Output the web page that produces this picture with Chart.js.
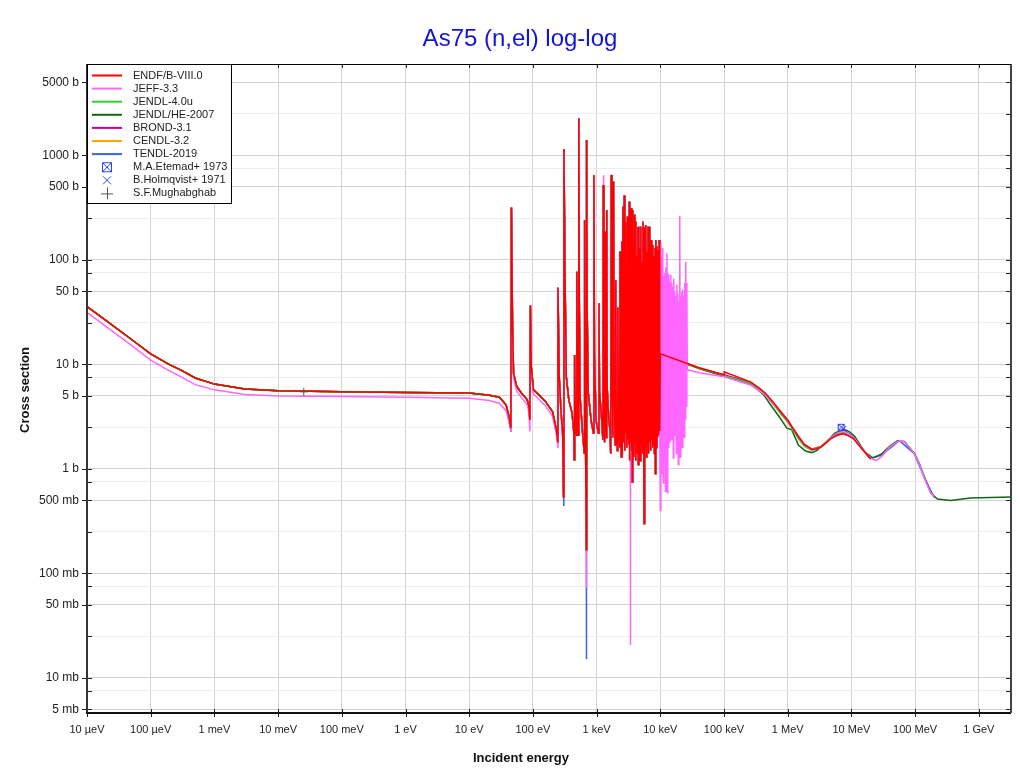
<!DOCTYPE html>
<html>
<head>
<meta charset="utf-8">
<title>As75 (n,el) log-log</title>
<script src="https://cdn.jsdelivr.net/npm/chart.js@4.4.0/dist/chart.umd.min.js"></script>
<style>
  html, body { margin: 0; padding: 0; background: #fff; }
  #wrap { width: 1020px; height: 774px; }
</style>
</head>
<body>
<div id="wrap"><canvas id="xsChart" width="1020" height="774"></canvas></div>
<script>
'use strict';

// energies in eV, cross sections in barns

// thermal region
let thermE = [1e-5, 2e-5, 5e-5, 1e-4, 2e-4, 3e-4, 5e-4, 1e-3, 3e-3, 1e-2, 0.1, 1];
let thermXS = [35.7, 26.2, 17.3, 12.6, 9.9, 8.8, 7.4, 6.47, 5.8, 5.58, 5.46, 5.38];
let jeffThermXS = [31.5, 23.0, 15.2, 11.0, 8.6, 7.6, 6.4, 5.7, 5.15, 4.99, 4.92, 4.85];

// resolved resonances, common to most evaluations (10 eV - 10 keV)
let resE = [
  10, 20.7, 29.7, 37.9, 42.2, 45.0, 46.0, 47.9, 49.7, 55.8,
  66.5, 81.4, 86.5, 89.6, 91.3, 94.2, 102, 125, 158, 203,
  234, 246, 247, 259, 276, 293, 303, 307, 320, 334,
  366, 412, 440, 445, 452, 467, 485, 489, 507, 517,
  525, 535, 550, 596, 642, 649, 666, 690, 697, 712,
  740, 820, 890, 908, 925, 980, 1070, 1090, 1110, 1200,
  1255, 1274, 1300, 1335, 1360, 1385, 1420, 1440, 1465, 1550,
  1630, 1665, 1700, 1740, 1800, 1840, 1880, 1950, 1990, 2030,
  2120, 2150, 2200, 2300, 2330, 2380, 2450, 2500, 2530, 2600,
  2650, 2720, 2770, 2820, 2870, 2930, 2980, 3050, 3100, 3170,
  3210, 3260, 3310, 3380, 3420, 3470, 3530, 3580, 3620, 3660,
  3720, 3790, 3850, 3910, 3980, 4050, 4100, 4150, 4220, 4300,
  4370, 4450, 4520, 4600, 4680, 4760, 4820, 4950, 5050, 5150,
  5250, 5350, 5550, 5650, 5780, 5900, 6020, 6150, 6280, 6400,
  6520, 6650, 6800, 6920, 7050, 7150, 7300, 7450, 7550, 7650,
  7800, 7950, 8100, 8250, 8400, 8500, 8650, 8850, 9000, 9200,
  9400, 9600, 9800
];
let resXS = [
  5.31, 5.07, 4.85, 4.1, 3.16, 2.45, 318, 23, 8.2, 6.13,
  5.3, 4.57, 3.94, 2.94, 36.5, 9.5, 5.7, 5.1, 4.4, 3.54,
  2.36, 1.82, 54, 7.6, 3.6, 2.19, 0.54, 1153, 60, 7.64,
  4.57, 3.41, 2.2, 1.22, 12.3, 2.2, 2.1, 77, 2.37, 2.1,
  2270, 40, 4.9, 2.4, 1.41, 241, 3.1, 0.168, 1407, 30,
  5.3, 2.9, 2.2, 651, 12, 2.9, 2.19, 38.5, 5.5, 3.0,
  1.9, 522, 8, 1.8, 187, 6, 2.0, 300, 6, 3.0,
  2.3, 1.4, 651, 10, 2.0, 562, 8, 1.7, 64, 4,
  1.5, 35, 3, 1.6, 120, 2.2, 1.3, 150, 1.36, 324,
  1.8, 413, 1.5, 232, 2.2, 80, 1.6, 260, 1.9, 90,
  1.7, 361, 1.2, 200, 1.8, 312, 1.5, 120, 0.75, 301,
  1.6, 150, 1.3, 270, 1.7, 90, 1.2, 233, 1.9, 110,
  1.4, 207, 1.1, 208, 1.6, 130, 1.2, 208, 1.7, 95,
  1.4, 232, 0.30, 207, 1.6, 216, 1.3, 120, 1.7, 208,
  1.4, 208, 1.8, 100, 1.5, 155, 1.9, 80, 1.6, 139,
  1.7, 110, 1.4, 130, 0.9, 155, 1.6, 135, 2.0, 125,
  2.1, 155, 2.3
];

// JEFF-3.3 below 300 eV (lower background)
let jeffLowE = [10, 20.7, 29.7, 37.9, 42.2, 45.0, 46.0, 47.9, 49.7, 55.8, 66.5, 81.4, 86.5,
  89.6, 91.3, 94.2, 102, 125, 158, 203, 234, 246, 247, 259, 276, 293];
let jeffLowXS = [4.74, 4.5, 4.25, 3.6, 2.8, 2.28, 318, 21, 7.4, 5.5, 4.8, 4.1, 3.5,
  2.28, 36.5, 8.5, 5.2, 4.6, 4.0, 3.2, 2.1, 1.6, 54, 7, 3.3, 2.0];
// where JEFF-3.3 differs from the common set
let jeffExtraE = [690.5, 1275, 1701, 2601, 3390];
let jeffExtraXS = [0.072, 645, 660, 330, 0.0206];
// JEFF-3.3 resonances above 10 keV
let jeffUrE = [10000, 10200, 10350, 10500, 10700, 10900, 11100, 11300, 11550, 11800,
  12000, 12200, 12450, 12700, 12900, 13100, 13350, 13600, 13850, 14100,
  14350, 14600, 14900, 15200, 15450, 15700, 16000, 16300, 16600, 16900,
  17200, 17500, 17850, 18200, 18500, 18800, 19150, 19500, 19850, 20200,
  20600, 21000, 21350, 21700, 22100, 22500, 22900, 23400, 23800, 24200,
  24600, 25100, 25600, 26100, 26500];
let jeffUrXS = [0.40, 144, 0.9, 107, 1.5, 130, 0.73, 70, 1.2, 75,
  0.61, 85, 1.5, 116, 0.59, 75, 1.6, 73, 1.8, 62,
  2.1, 72, 1.9, 60, 2.3, 55, 1.27, 66, 2.1, 50,
  2.6, 45, 1.4, 58, 2.0, 48, 1.1, 40, 1.8, 265,
  1.3, 45, 2.2, 50, 1.6, 52, 2.4, 45, 2.0, 60,
  3.0, 96, 4.0, 60, 8.9];

// TENDL-2019 deeper minima
let tendlExtraE = [45.1, 303.5, 690.5];
let tendlExtraXS = [2.25, 0.44, 0.015];

// fast region
let endfFastE = [1e4, 4.07e4, 1e5, 1.005e5, 2.6e5, 3.5e5, 4.46e5, 6e5, 8.09e5, 1e6, 1.2e6, 1.47e6,
  1.8e6, 2.37e6, 2.8e6, 3.4e6, 4.87e6, 6e6, 7.4e6, 9e6, 1.06e7, 1.43e7, 2e7];
let endfFastXS = [12.6, 9.28, 7.9, 8.5, 6.8, 6.0, 5.3, 4.3, 3.4, 2.9, 2.45, 2.04,
  1.72, 1.54, 1.55, 1.63, 1.96, 2.12, 2.16, 2.07, 1.96, 1.58, 1.24];

let jeffFastE = [4.07e4, 1e5, 2.6e5, 4.46e5, 6e5, 8.09e5, 1e6, 1.47e6, 1.8e6, 2.37e6,
  2.8e6, 3.4e6, 4.87e6, 6e6, 7.6e6, 9e6, 1.06e7, 1.43e7, 2e7, 2.45e7,
  2.94e7, 4e7, 5.67e7, 7e7, 9.7e7, 1.16e8, 1.39e8, 1.76e8, 1.98e8];
let jeffFastXS = [8.3, 7.6, 6.35, 5.1, 4.2, 3.4, 2.85, 2.05, 1.72, 1.53,
  1.55, 1.62, 2.0, 2.2, 2.3, 2.15, 2.02, 1.6, 1.26, 1.2,
  1.3, 1.62, 1.86, 1.8, 1.39, 1.12, 0.815, 0.59, 0.54];

let heFastE = [1e4, 4.07e4, 1e5, 2.76e5, 4.2e5, 5.65e5, 7.5e5, 9.7e5, 1.16e6, 1.47e6,
  1.9e6, 2.37e6, 2.9e6, 3.84e6, 5.5e6, 7.6e6, 9.5e6, 1.13e7, 1.61e7, 2.18e7,
  2.94e7, 4e7, 5.3e7, 6.76e7, 9.7e7, 1.16e8, 1.39e8, 1.76e8, 2.24e8, 3.61e8,
  7.4e8, 3.2e9];
let heFastXS = [12.4, 9.1, 7.7, 6.35, 5.1, 3.93, 3.1, 2.45, 2.36, 1.69,
  1.48, 1.43, 1.5, 1.76, 2.2, 2.4, 2.25, 2.04, 1.46, 1.27,
  1.38, 1.65, 1.86, 1.83, 1.41, 1.13, 0.84, 0.586, 0.513, 0.498,
  0.525, 0.536];

let fastE = [1e4, 4.07e4, 1e5, 2.6e5, 4.46e5, 6e5, 8.09e5, 1e6, 1.47e6, 1.8e6,
  2.37e6, 3.4e6, 4.87e6, 7.6e6, 1.06e7, 1.43e7, 2e7];
let j40FastXS = [12.5, 9.2, 7.8, 6.6, 5.1, 4.1, 3.25, 2.8, 1.95, 1.66,
  1.5, 1.62, 1.98, 2.25, 2.0, 1.58, 1.25];
let brondFastXS = [12.6, 9.25, 7.95, 6.7, 5.25, 4.25, 3.4, 2.9, 2.0, 1.7,
  1.52, 1.63, 1.98, 2.2, 1.98, 1.58, 1.24];
let cendlFastXS = [12.5, 9.1, 7.75, 6.5, 5.2, 4.25, 3.45, 2.95, 2.05, 1.72,
  1.55, 1.65, 2.0, 2.28, 2.0, 1.6, 1.25];

let tendlFastE = [1e4, 4.07e4, 1e5, 2.6e5, 4.46e5, 6e5, 8.09e5, 1e6, 1.47e6, 1.8e6,
  2.37e6, 3.4e6, 4.87e6, 7.6e6, 1.06e7, 1.43e7, 2e7, 2.94e7, 5.67e7, 9.7e7,
  1.39e8, 2e8];
let tendlFastXS = [12.6, 9.2, 7.8, 6.5, 5.2, 4.2, 3.4, 2.9, 2.05, 1.72,
  1.55, 1.63, 2.0, 2.35, 2.05, 1.6, 1.26, 1.35, 1.86, 1.4,
  0.83, 0.53];

// measurements
let etemadE = [6.9e6];
let etemadXS = [2.5];
let holmqvistE = [7.5e6];
let holmqvistXS = [2.42];
let mughabE = [0.0253];
let mughabXS = [5.45];

// axes
let xTickVals = [1e-5, 1e-4, 1e-3, 1e-2, 0.1, 1, 10, 100, 1e3, 1e4, 1e5, 1e6, 1e7, 1e8, 1e9];
let xTickLabels = ['10 µeV', '100 µeV', '1 meV', '10 meV', '100 meV', '1 eV', '10 eV', '100 eV',
  '1 keV', '10 keV', '100 keV', '1 MeV', '10 MeV', '100 MeV', '1 GeV'];
let yTickVals = [5000, 1000, 500, 100, 50, 10, 5, 1, 0.5, 0.1, 0.05, 0.01, 0.005];
let yTickLabels = ['5000 b', '1000 b', '500 b', '100 b', '50 b', '10 b', '5 b', '1 b',
  '500 mb', '100 mb', '50 mb', '10 mb', '5 mb'];
let yMinorVals = [2500, 750, 250, 75, 25, 7.5, 2.5, 0.75, 0.25, 0.075, 0.025, 0.0075];

let names = ['ENDF/B-VIII.0', 'JEFF-3.3', 'JENDL-4.0u', 'JENDL/HE-2007', 'BROND-3.1', 'CENDL-3.2', 'TENDL-2019'];
let colors = ['#ff0000', '#ff66ff', '#33cc33', '#146614', '#cc0099', '#ffa500', '#3a66dd'];
let pointNames = ['M.A.Etemad+ 1973', 'B.Holmqvist+ 1971', 'S.F.Mughabghab'];
let pointColors = ['#3344ee', '#3344ee', '#555555'];

function pts (eArr, xsArr) {
  return eArr.map((e, i) => ({ x: e, y: xsArr[i] }));
}

function byEnergy (a, b) {
  return a.x - b.x;
}

let thermPts = pts(thermE, thermXS);
let resPts = pts(resE, resXS);

let endfPts = thermPts.concat(resPts, pts(endfFastE, endfFastXS));
let jeffPts = pts(thermE, jeffThermXS).concat(
  pts(jeffLowE, jeffLowXS),
  resPts.filter(p => p.x >= 300).concat(pts(jeffExtraE, jeffExtraXS)).sort(byEnergy),
  pts(jeffUrE, jeffUrXS),
  pts(jeffFastE, jeffFastXS));
let j40Pts = thermPts.concat(resPts, pts(fastE, j40FastXS));
let hePts = thermPts.concat(resPts, pts(heFastE, heFastXS));
let brondPts = thermPts.concat(resPts, pts(fastE, brondFastXS));
let cendlPts = thermPts.concat(resPts, pts(fastE, cendlFastXS));
let tendlPts = thermPts.concat(resPts.concat(pts(tendlExtraE, tendlExtraXS)).sort(byEnergy),
  pts(tendlFastE, tendlFastXS));

function boxCross (size, color) {
  let c = document.createElement('canvas');
  c.width = size + 2;
  c.height = size + 2;
  let g = c.getContext('2d');
  g.strokeStyle = color;
  g.lineWidth = 1;
  g.strokeRect(1.5, 1.5, size - 1, size - 1);
  g.beginPath();
  g.moveTo(1.5, 1.5); g.lineTo(size + 0.5, size + 0.5);
  g.moveTo(size + 0.5, 1.5); g.lineTo(1.5, size + 0.5);
  g.stroke();
  return c;
}

let etemadMark = boxCross(7, pointColors[0]);
let etemadLegendMark = boxCross(10, pointColors[0]);

function curve (data, i) {
  return {
    label: names[i],
    data: data,
    borderColor: colors[i],
    backgroundColor: colors[i],
    borderWidth: 1.5,
    pointRadius: 0,
    tension: 0,
    fill: false,
    clip: 0
  };
}

let datasets = [
  { label: pointNames[0], data: pts(etemadE, etemadXS), showLine: false,
    pointStyle: etemadMark, pointRadius: 4, borderColor: pointColors[0] },
  { label: pointNames[1], data: pts(holmqvistE, holmqvistXS), showLine: false,
    pointStyle: 'crossRot', pointRadius: 4, borderWidth: 1, borderColor: pointColors[1] },
  { label: pointNames[2], data: pts(mughabE, mughabXS), showLine: false,
    pointStyle: 'cross', pointRadius: 4, borderWidth: 1, borderColor: pointColors[2] },
  curve(endfPts, 0),
  curve(jeffPts, 1),
  curve(j40Pts, 2),
  curve(hePts, 3),
  curve(brondPts, 4),
  curve(cendlPts, 5),
  curve(tendlPts, 6)
];

const FONT = '"Liberation Sans", Arial, Helvetica, sans-serif';
Chart.defaults.font.family = FONT;

const framePlugin = {
  id: 'frame',
  afterDatasetsDraw (chart) {
    let ctx = chart.ctx;
    let a = chart.chartArea;
    let xs = chart.scales.x;
    let ys = chart.scales.y;
    ctx.save();
    ctx.strokeStyle = '#222';
    ctx.lineWidth = 1;
    ctx.beginPath();
    ys.ticks.forEach(t => {
      let py = Math.round(ys.getPixelForValue(t.value)) + 0.5;
      let major = yTickVals.includes(t.value);
      ctx.moveTo(major ? a.left - 5 : a.left, py);
      ctx.lineTo(a.left + 5, py);
      ctx.moveTo(a.right - 5, py);
      ctx.lineTo(a.right, py);
    });
    xs.ticks.forEach(t => {
      let px = Math.round(xs.getPixelForValue(t.value)) + 0.5;
      ctx.moveTo(px, a.bottom - 4);
      ctx.lineTo(px, a.bottom + 4);
      ctx.moveTo(px, a.top);
      ctx.lineTo(px, a.top + 4);
    });
    ctx.stroke();

    ctx.lineWidth = 2;
    ctx.strokeStyle = '#333';
    ctx.beginPath();
    ctx.moveTo(a.left, a.top);
    ctx.lineTo(a.left, a.bottom);
    ctx.stroke();
    ctx.strokeStyle = '#111';
    ctx.beginPath();
    ctx.moveTo(a.left - 1, a.bottom);
    ctx.lineTo(a.right, a.bottom);
    ctx.stroke();
    ctx.strokeStyle = '#444';
    ctx.beginPath();
    ctx.moveTo(a.right, a.top);
    ctx.lineTo(a.right, a.bottom);
    ctx.stroke();
    ctx.lineWidth = 1;
    ctx.strokeStyle = '#000';
    ctx.beginPath();
    ctx.moveTo(a.left, a.top + 0.5);
    ctx.lineTo(a.right, a.top + 0.5);
    ctx.stroke();
    ctx.restore();
  },
  afterDraw (chart) {
    let ctx = chart.ctx;
    let a = chart.chartArea;
    ctx.save();

    // legend box
    let bx = a.left, by = a.top, bw = 144, bh = 139;
    ctx.fillStyle = '#fff';
    ctx.fillRect(bx, by, bw, bh);
    ctx.strokeStyle = '#000';
    ctx.lineWidth = 1;
    ctx.strokeRect(bx + 0.5, by + 0.5, bw, bh);
    ctx.font = '11px ' + FONT;
    ctx.textBaseline = 'middle';
    ctx.textAlign = 'left';
    let row = 13.1;
    names.forEach((n, i) => {
      let ly = by + 11.5 + i * row;
      ctx.strokeStyle = colors[i];
      ctx.lineWidth = 2;
      ctx.beginPath();
      ctx.moveTo(bx + 5, ly);
      ctx.lineTo(bx + 35, ly);
      ctx.stroke();
      ctx.fillStyle = '#222';
      ctx.fillText(n, bx + 46, ly);
    });
    pointNames.forEach((n, i) => {
      let ly = by + 11.5 + (names.length + i) * row;
      let cx = bx + 20;
      ctx.strokeStyle = pointColors[i];
      ctx.lineWidth = 1;
      if (i === 0) {
        ctx.drawImage(etemadLegendMark, cx - 6, ly - 6);
      } else if (i === 1) {
        ctx.beginPath();
        ctx.moveTo(cx - 4, ly - 4); ctx.lineTo(cx + 4, ly + 4);
        ctx.moveTo(cx + 4, ly - 4); ctx.lineTo(cx - 4, ly + 4);
        ctx.stroke();
      } else {
        ctx.beginPath();
        ctx.moveTo(cx - 6, ly + 0.5); ctx.lineTo(cx + 6, ly + 0.5);
        ctx.moveTo(cx + 0.5, ly - 6); ctx.lineTo(cx + 0.5, ly + 6);
        ctx.stroke();
      }
      ctx.fillStyle = '#222';
      ctx.fillText(n, bx + 46, ly);
    });

    // title and axis titles
    ctx.fillStyle = '#1414d2';
    ctx.font = '24px ' + FONT;
    ctx.textAlign = 'center';
    ctx.textBaseline = 'alphabetic';
    ctx.fillText('As75 (n,el) log-log', 520, 46);

    ctx.fillStyle = '#111';
    ctx.font = 'bold 13px ' + FONT;
    ctx.textBaseline = 'middle';
    ctx.fillText('Incident energy', 521, 758);
    ctx.translate(25, 390);
    ctx.rotate(-Math.PI / 2);
    ctx.fillText('Cross section', 0, 0);
    ctx.restore();
  }
};

let ctx = document.getElementById('xsChart').getContext('2d');

let chart = new Chart(ctx, {
  type: 'line',
  data: { datasets: datasets },
  options: {
    responsive: false,
    animation: false,
    events: [],
    layout: { padding: { top: 64, right: 9, left: 0, bottom: 0 } },
    plugins: {
      legend: { display: false },
      title: { display: false },
      tooltip: { enabled: false }
    },
    scales: {
      x: {
        type: 'logarithmic',
        min: 1e-5,
        max: 3.2e9,
        afterBuildTicks: s => { s.ticks = xTickVals.map(v => ({ value: v })); },
        afterFit: s => { s.height = 61; },
        border: { display: false },
        grid: { color: '#d2d2d2', lineWidth: 1, drawTicks: false },
        ticks: {
          autoSkip: false,
          maxRotation: 0,
          minRotation: 0,
          padding: 10,
          color: '#222',
          font: { size: 11 },
          callback: v => {
            let i = xTickVals.indexOf(v);
            return i >= 0 ? xTickLabels[i] : '';
          }
        }
      },
      y: {
        type: 'logarithmic',
        min: 0.0046,
        max: 7500,
        afterBuildTicks: s => {
          s.ticks = yTickVals.concat(yMinorVals).sort((p, q) => p - q).map(v => ({ value: v }));
        },
        afterFit: s => { s.width = 87; },
        border: { display: false },
        grid: {
          drawTicks: false,
          lineWidth: 1,
          color: c => (c.tick && yMinorVals.includes(c.tick.value)) ? '#ededed' : '#d2d2d2'
        },
        ticks: {
          autoSkip: false,
          padding: 8,
          color: '#222',
          font: { size: 12 },
          callback: v => {
            let i = yTickVals.indexOf(v);
            return i >= 0 ? yTickLabels[i] : '';
          }
        }
      }
    }
  },
  plugins: [framePlugin]
});
</script>
</body>
</html>
